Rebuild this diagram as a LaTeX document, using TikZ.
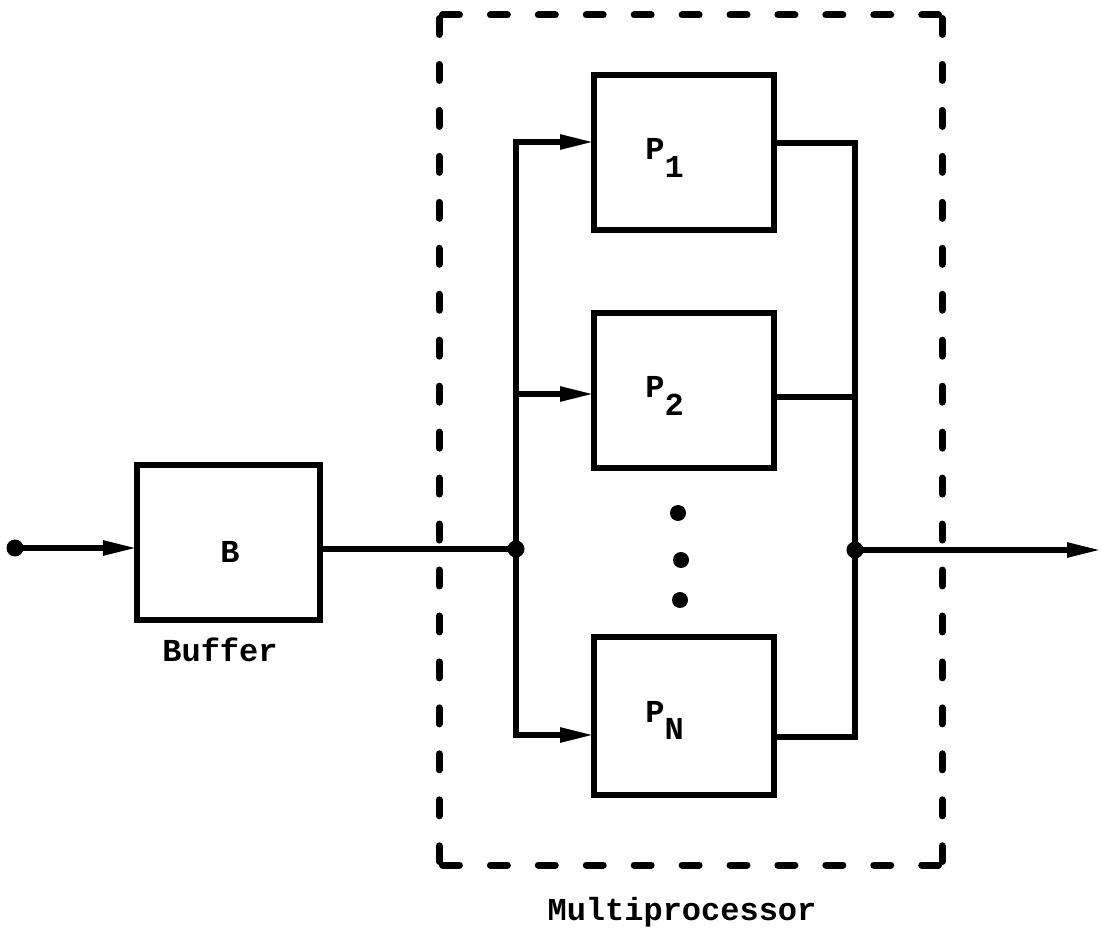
\documentclass[tikz,border=0pt]{standalone}
\usepackage{fontspec}
\setmonofont{Liberation Mono}
\usetikzlibrary{arrows.meta}
\begin{document}
\begin{tikzpicture}[x=0.5pt,y=-0.5pt,
  box/.style={draw, line width=3pt, minimum width=90pt, minimum height=77.5pt, inner sep=0pt, outer sep=0pt},
  wire/.style={line width=2.8pt},
  arr/.style={wire, -{Triangle[length=17pt,width=7pt]}},
  dot/.style={circle, fill, inner sep=0pt, minimum size=8.5pt},
  lbl/.style={font=\ttfamily\bfseries\fontsize{16}{19}\selectfont, inner sep=0pt},
  hdash/.style={line width=3.5pt, line cap=round, dash pattern=on 8.48pt off 15.48pt},
  vdash/.style={line width=3.5pt, line cap=round, dash pattern=on 7.99pt off 14.99pt}
]
\useasboundingbox (0,0) rectangle (1102,929);

% boxes
\node[box, minimum width=91.5pt] (B) at (228.5,542.5) {};
\node[box] (P1) at (684,152.5) {};
\node[box] (P2) at (684,390.5) {};
\node[box, minimum height=79pt] (PN) at (684,716) {};

% labels
\node[lbl] (Bt) at (230,552) {B};
\node[lbl, anchor=base west] (P1t) at (645,160) {P\raisebox{-0.55em}{1}};
\node[lbl, anchor=base west] (P2t) at (645,398) {P\raisebox{-0.55em}{2}};
\node[lbl, anchor=base west] (PNt) at (645,722) {P\raisebox{-0.55em}{N}};
\node[lbl] (buf) at (220,650) {Buffer};
\node[lbl, anchor=base] (mp) at (682,920) {Multiprocessor};

% junctions and terminals
\node[dot] (in) at (15,548) {};
\node[dot] (J1) at (516,549) {};
\node[dot] (J2) at (855,550) {};
\coordinate (out) at (1101,550);
\coordinate (a1) at (516,142);
\coordinate (a2) at (516,394);
\coordinate (a3) at (516,735);
\coordinate (b1) at (855,143);
\coordinate (b2) at (855,397);
\coordinate (b3) at (855,737);

% wires
\draw[arr] (in.center) -- (in.center -| B.west);
\draw[wire] (J1 -| B.east) -- (J1.center);
\draw[arr] (J1.center) -- (a1) -- (a1 -| P1.west);
\draw[arr] (J1.center) -- (a3) -- (a3 -| PN.west);
\draw[arr] (a2) -- (a2 -| P2.west);
\draw[wire] (b1 -| P1.east) -- (b1) -- (b3) -- (b3 -| PN.east);
\draw[wire] (b2 -| P2.east) -- (b2);
\draw[arr] (J2.center) -- (out);

% ellipsis dots
\node[dot, minimum size=8pt] (d1) at (678,513) {};
\node[dot, minimum size=8pt] (d2) at (681,560) {};
\node[dot, minimum size=8pt] (d3) at (680,600) {};

% dashed multiprocessor frame
\coordinate (mtl) at (439,15);
\coordinate (mtr) at (942,15);
\coordinate (mbr) at (942,865);
\coordinate (mbl) at (439,865);
\draw[hdash] ([xshift=1.75pt]mtl) -- ([xshift=-1.75pt]mtr);
\draw[hdash] ([xshift=1.75pt]mbl) -- ([xshift=-1.75pt]mbr);
\draw[vdash] ([yshift=-1.75pt]mtl) -- ([yshift=1.75pt]mbl);
\draw[vdash] ([yshift=-1.75pt]mtr) -- ([yshift=1.75pt]mbr);
\end{tikzpicture}
\end{document}
